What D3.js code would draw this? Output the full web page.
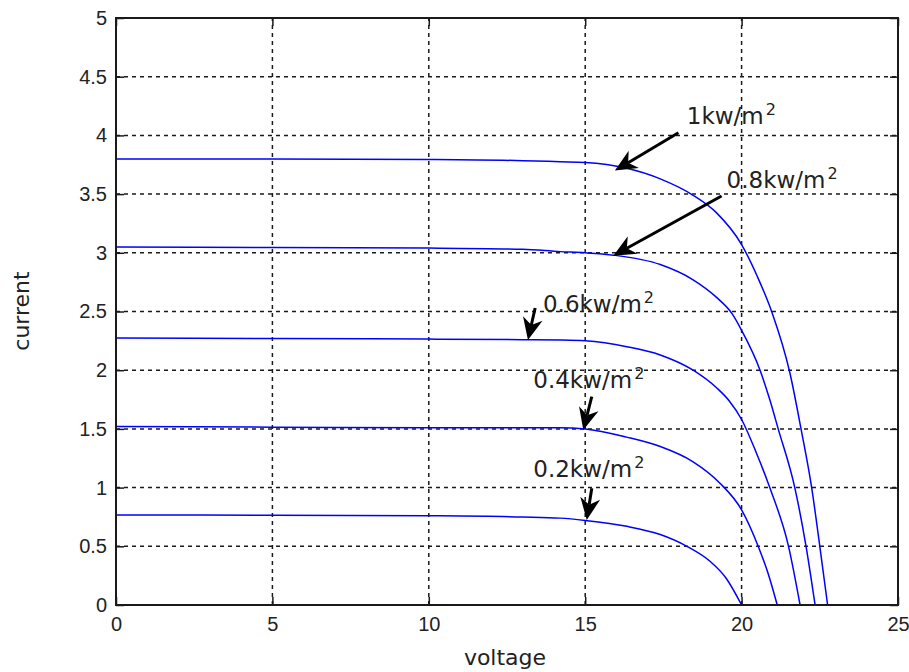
<!DOCTYPE HTML>
<html>
<script src='https://d3js.org/d3.v7.min.js'></script>
<style>
  body { margin: 0; background: white; }
</style>
<body onload='init()'>

<svg id="svgMain" width="909" height="672"></svg>

<script>

// I-V curves, one pair of arrays per irradiance level
const v1000 = [0, 5, 10, 13, 14.2, 15, 16.33, 17.4, 18.45, 19.2, 20, 20.5, 20.96, 21.55, 21.9, 22.24, 22.5, 22.75];
const i1000 = [3.80, 3.80, 3.795, 3.785, 3.776, 3.77, 3.72, 3.63, 3.49, 3.34, 3.07, 2.8, 2.5, 1.97, 1.5, 1.0, 0.5, 0];

const v800 = [0, 5, 10, 13, 14.2, 15, 15.9, 17.4, 18.45, 19.2, 19.7, 20, 20.59, 20.9, 21.17, 21.7, 22.06, 22.35];
const i800 = [3.05, 3.045, 3.04, 3.03, 3.01, 3.0, 2.98, 2.9, 2.77, 2.62, 2.48, 2.34, 2.0, 1.75, 1.5, 1.0, 0.5, 0];

const v600 = [0, 5, 10, 13, 14.2, 15, 16.33, 17.4, 18.45, 19.2, 19.6, 20, 20.45, 20.9, 21.5, 21.87];
const i600 = [2.275, 2.27, 2.265, 2.26, 2.257, 2.25, 2.2, 2.13, 2.0, 1.85, 1.74, 1.58, 1.31, 1.0, 0.5, 0];

const v400 = [0, 5, 10, 13, 14.2, 15, 16.33, 17.4, 18.45, 19.3, 20, 20.53, 20.87, 21.14];
const i400 = [1.52, 1.515, 1.51, 1.51, 1.51, 1.50, 1.43, 1.35, 1.22, 1.04, 0.81, 0.5, 0.25, 0];

const v200 = [0, 5, 10, 13, 14.2, 15, 16.33, 17.4, 18.25, 19, 19.5, 20];
const i200 = [0.767, 0.765, 0.76, 0.75, 0.74, 0.72, 0.67, 0.6, 0.5, 0.37, 0.23, 0];

const xTicks = [0, 5, 10, 15, 20, 25];
const yTicks = [0, 0.5, 1, 1.5, 2, 2.5, 3, 3.5, 4, 4.5, 5];

// labels with arrow tail and tip, in data units (voltage, current)
const labels = ['1kw/m', '0.8kw/m', '0.6kw/m', '0.4kw/m', '0.2kw/m'];
const labelAt = [[18.25, 4.097], [19.52, 3.55], [13.65, 2.498], [13.34, 1.846], [13.34, 1.093]];
const arrowTail = [[17.98, 4.023], [19.36, 3.484], [13.40, 2.53], [15.21, 1.774], [15.21, 0.994]];
const arrowTip = [[15.95, 3.70], [15.90, 2.975], [13.17, 2.257], [14.94, 1.49], [15.05, 0.724]];

function init() {
   var svg = d3.select('#svgMain');
   var xs = d3.scaleLinear().domain([0, 25]).range([116, 898]);
   var ys = d3.scaleLinear().domain([0, 5]).range([605, 18]);
   var ink = '#1a1a1a';

   // dashed grid
   svg.append('g').selectAll('line')
      .data(xTicks.slice(1, -1)).enter().append('line')
      .attr('x1', d => xs(d)).attr('x2', d => xs(d))
      .attr('y1', ys(0)).attr('y2', ys(5))
      .attr('stroke', ink).attr('stroke-width', 1.5)
      .attr('stroke-dasharray', '4,4');
   svg.append('g').selectAll('line')
      .data(yTicks.slice(1, -1)).enter().append('line')
      .attr('y1', d => ys(d)).attr('y2', d => ys(d))
      .attr('x1', xs(0)).attr('x2', xs(25))
      .attr('stroke', ink).attr('stroke-width', 1.5)
      .attr('stroke-dasharray', '4,4');

   // curves
   var series = [[v1000, i1000], [v800, i800], [v600, i600], [v400, i400], [v200, i200]];
   var line = d3.line()
      .x(d => xs(d[0])).y(d => ys(d[1]))
      .curve(d3.curveMonotoneX);
   svg.append('g').selectAll('path')
      .data(series).enter().append('path')
      .attr('d', s => line(s[0].map((v, k) => [v, s[1][k]])))
      .attr('fill', 'none')
      .attr('stroke', '#0000ff')
      .attr('stroke-width', 1.5);

   // axes, ticks pointing inward on all four sides
   const xAxis = d3.axisBottom(xs).tickValues(xTicks).tickSizeInner(-8).tickSizeOuter(0).tickPadding(12);
   const yAxis = d3.axisLeft(ys).tickValues(yTicks).tickSizeInner(-8).tickSizeOuter(0).tickPadding(9)
      .tickFormat(d3.format('~g'));
   const topAxis = d3.axisTop(xs).tickValues(xTicks).tickSizeInner(-8).tickSizeOuter(0).tickFormat('');
   const rightAxis = d3.axisRight(ys).tickValues(yTicks).tickSizeInner(-8).tickSizeOuter(0).tickFormat('');

   svg.append('g').attr('transform', 'translate(0,605)').call(xAxis);
   svg.append('g').attr('transform', 'translate(116,0)').call(yAxis);
   svg.append('g').attr('transform', 'translate(0,18)').call(topAxis);
   svg.append('g').attr('transform', 'translate(898,0)').call(rightAxis);

   svg.selectAll('.domain').remove();
   svg.selectAll('.tick line').attr('stroke', ink).attr('stroke-width', 1.5);
   svg.selectAll('.tick text')
      .attr('fill', '#222')
      .style('font-family', 'Liberation Sans, Arial, sans-serif')
      .style('font-size', '20px');

   svg.append('rect')
      .attr('x', xs(0)).attr('y', ys(5))
      .attr('width', xs(25) - xs(0)).attr('height', ys(0) - ys(5))
      .attr('fill', 'none').attr('stroke', ink).attr('stroke-width', 2);

   // axis titles
   svg.append('text')
      .attr('x', 505).attr('y', 665)
      .attr('text-anchor', 'middle')
      .style('font-family', 'DejaVu Sans, sans-serif').style('font-size', '22px')
      .attr('fill', '#222')
      .text('voltage');
   svg.append('text')
      .attr('transform', 'translate(29,311) rotate(-90)')
      .attr('text-anchor', 'middle')
      .style('font-family', 'DejaVu Sans, sans-serif').style('font-size', '22px')
      .attr('fill', '#222')
      .text('current');

   // irradiance labels
   var lab = svg.append('g').selectAll('text')
      .data(labels).enter().append('text')
      .attr('x', (d, k) => xs(labelAt[k][0]))
      .attr('y', (d, k) => ys(labelAt[k][1]))
      .style('font-family', 'DejaVu Sans, sans-serif').style('font-size', '23px')
      .attr('fill', '#222');
   lab.append('tspan').text(d => d);
   lab.append('tspan').attr('dx', 2).attr('dy', -9).style('font-size', '16px').text('2');

   // arrows: shaft plus a notched filled head
   var headLen = 22, headW = 20;
   labels.forEach(function (d, k) {
      var x0 = xs(arrowTail[k][0]), y0 = ys(arrowTail[k][1]);
      var x1 = xs(arrowTip[k][0]), y1 = ys(arrowTip[k][1]);
      var a = Math.atan2(y1 - y0, x1 - x0);
      var ux = Math.cos(a), uy = Math.sin(a);
      var px = -uy, py = ux;
      var bx = x1 - ux * headLen, by = y1 - uy * headLen;
      var nx = x1 - ux * headLen * 0.7, ny = y1 - uy * headLen * 0.7;
      svg.append('line')
         .attr('x1', x0).attr('y1', y0).attr('x2', nx).attr('y2', ny)
         .attr('stroke', 'black').attr('stroke-width', 3);
      svg.append('path')
         .attr('d', 'M' + x1 + ',' + y1 +
            'L' + (bx + px * headW / 2) + ',' + (by + py * headW / 2) +
            'L' + nx + ',' + ny +
            'L' + (bx - px * headW / 2) + ',' + (by - py * headW / 2) + 'Z')
         .attr('fill', 'black');
   });
}

</script>
</body>
</html>
